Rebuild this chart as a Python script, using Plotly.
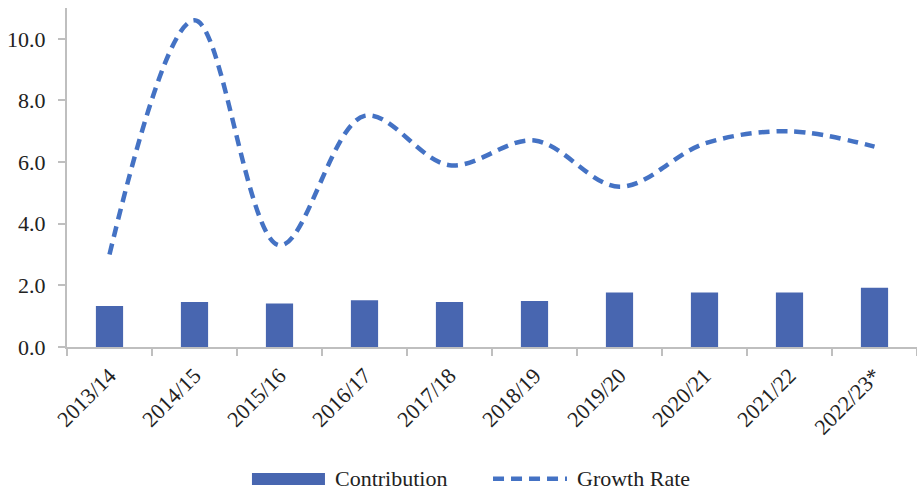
import plotly.graph_objects as go

years = ["2013/14", "2014/15", "2015/16", "2016/17", "2017/18",
         "2018/19", "2019/20", "2020/21", "2021/22", "2022/23*"]
contribution = [1.33, 1.46, 1.41, 1.52, 1.46, 1.49, 1.77, 1.77, 1.77, 1.92]
growth_rate = [3.0, 10.6, 3.3, 7.5, 5.9, 6.7, 5.2, 6.6, 7.0, 6.5]
y_ticks = [0, 2, 4, 6, 8, 10]

font_family = "Liberation Serif"
font_size = 22
axis_grey = "#BFBFBF"
bar_color = "#4866B0"
line_color = "#4472C4"
dash_pattern = "11px,7px"

fig = go.Figure()
fig.add_trace(go.Bar(
    x=years, y=contribution, name="Contribution",
    marker=dict(color=bar_color, line=dict(width=0)),
    width=0.32, showlegend=False,
))
fig.add_trace(go.Scatter(
    x=years, y=growth_rate, name="Growth Rate", mode="lines",
    line=dict(color=line_color, width=4.5, dash=dash_pattern,
              shape="spline", smoothing=1.0),
    showlegend=False,
))

# Legend below the axis: wide swatch for the bars, dashed stroke for the line
fig.add_shape(type="rect", xref="paper", yref="paper",
              x0=0.2176, x1=0.3035, y0=-0.4071, y1=-0.3717,
              fillcolor=bar_color, line=dict(width=0))
fig.add_shape(type="line", xref="paper", yref="paper",
              x0=0.5012, x1=0.5882, y0=-0.389, y1=-0.389,
              line=dict(color=line_color, width=4.5, dash=dash_pattern))
fig.add_annotation(text="Contribution", xref="paper", yref="paper",
                   x=0.3129, y=-0.389, xanchor="left", yanchor="middle",
                   showarrow=False, font=dict(size=font_size))
fig.add_annotation(text="Growth Rate", xref="paper", yref="paper",
                   x=0.5976, y=-0.389, xanchor="left", yanchor="middle",
                   showarrow=False, font=dict(size=font_size))

fig.update_layout(
    width=917, height=492,
    margin=dict(l=67, r=0, t=8, b=145, autoexpand=False),
    paper_bgcolor="white", plot_bgcolor="white",
    font=dict(family=font_family, size=font_size, color="#222222"),
    showlegend=False,
)
fig.update_xaxes(
    type="category", tickangle=-45, tickson="boundaries", automargin=False,
    showline=True, linecolor=axis_grey, linewidth=2,
    ticks="outside", ticklen=7, tickcolor=axis_grey, tickwidth=2,
    ticklabelstandoff=5,
    showgrid=False, tickfont=dict(family=font_family, size=font_size),
)
fig.update_yaxes(
    range=[0, 11], tickvals=y_ticks, tickformat=".1f", automargin=False,
    showline=True, linecolor=axis_grey, linewidth=2,
    ticks="outside", ticklen=7, tickcolor=axis_grey, tickwidth=2,
    ticklabelstandoff=8,
    showgrid=False, zeroline=False, tickfont=dict(family=font_family, size=font_size),
)

fig.write_html("out.html")
